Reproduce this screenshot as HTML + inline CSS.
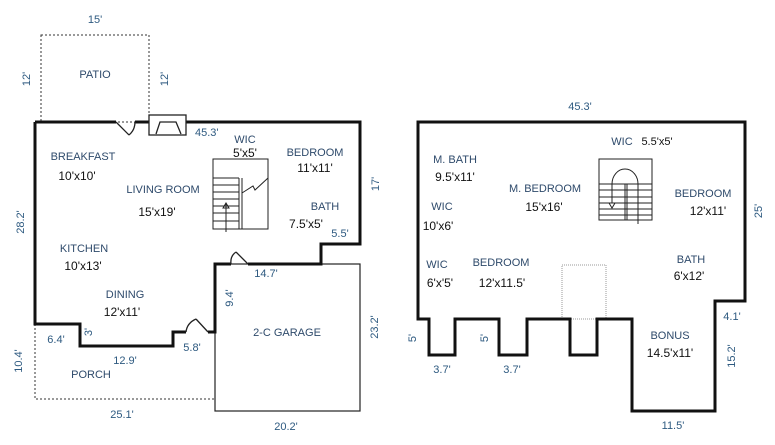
<!DOCTYPE html>
<html><head><style>
html,body{margin:0;padding:0;background:#fff;}
svg{display:block;}
text{font-family:"Liberation Sans",sans-serif;font-size:11px;}
.l{fill:#2e4a6b;}
.d{fill:#2e5a80;}
.s{fill:#111;font-size:12px;}
</style></head><body>
<svg width="775" height="445" viewBox="0 0 775 445" xmlns="http://www.w3.org/2000/svg">
<!-- LEFT PLAN -->
<rect x="41" y="35" width="108" height="87" fill="none" stroke="#333" stroke-width="1" stroke-dasharray="2,2"/>
<polyline points="35,324 35,399 215,399" fill="none" stroke="#333" stroke-width="1" stroke-dasharray="2,2"/>
<rect x="215" y="264" width="145" height="147" fill="none" stroke="#222" stroke-width="1.2"/>
<path d="M35,122 H116 M135,122 H149 M186,122 H360 V244 H321 V264 H248 M231,264 H215 V332 H208 M186,332 H173 V346 H80 V324 H35 V122" fill="none" stroke="#111" stroke-width="3"/>
<!-- doors -->
<path d="M116,122 L129,135 M129,135 Q135,130 135,122" fill="none" stroke="#222" stroke-width="1.3"/>
<path d="M248,264 L236,252 M236,252 Q230,256 231,264" fill="none" stroke="#222" stroke-width="1.3"/>
<path d="M208,332 L196,319 M196,319 Q187,323 186,332" fill="none" stroke="#222" stroke-width="1.3"/>
<!-- fireplace -->
<rect x="149" y="115" width="37" height="20" fill="#fff" stroke="#222" stroke-width="1.3"/>
<path d="M156,134 L160,122 H176 L181,134" fill="none" stroke="#222" stroke-width="1.3"/>
<!-- stairs left -->
<g fill="none" stroke="#222" stroke-width="1">
<rect x="213" y="159" width="55" height="70"/>
<line x1="213" y1="178" x2="239" y2="178"/>
<line x1="239" y1="178" x2="239" y2="229"/>
<line x1="242" y1="178" x2="242" y2="229"/>
<line x1="213" y1="185" x2="239" y2="185"/>
<line x1="213" y1="192" x2="239" y2="192"/>
<line x1="213" y1="199" x2="239" y2="199"/>
<line x1="213" y1="206" x2="239" y2="206"/>
<line x1="213" y1="213" x2="239" y2="213"/>
<line x1="213" y1="221" x2="239" y2="221"/>
<line x1="226" y1="232" x2="226" y2="203"/>
<path d="M223,208 L226,203 L229,208 Z"/>
<path d="M242,193 L253,186 L255,190 L268,178"/>
</g>
<!-- RIGHT PLAN -->
<rect x="562" y="265" width="44" height="54" fill="none" stroke="#999" stroke-width="1" stroke-dasharray="1,1"/>
<path d="M418,122 H745 V301 H715 V411 H632 V319 H597 V355 H570 V319 H527 V355 H499 V319 H455 V355 H429 V319 H418 Z" fill="none" stroke="#111" stroke-width="3"/>
<g fill="none" stroke="#222" stroke-width="1">
<rect x="599" y="159" width="53" height="61"/>
<line x1="625" y1="184" x2="625" y2="220"/>
<line x1="627" y1="184" x2="627" y2="220"/>
<line x1="599" y1="184" x2="652" y2="184"/>
<line x1="599" y1="190" x2="652" y2="190"/>
<line x1="599" y1="197" x2="652" y2="197"/>
<line x1="599" y1="203" x2="652" y2="203"/>
<line x1="599" y1="209" x2="652" y2="209"/>
<line x1="599" y1="215" x2="652" y2="215"/>
<path d="M612,203 V184 A13,15 0 0 1 638,184 V224"/>
<path d="M609,203 L612,208 L615,203 Z"/>
</g>
<!-- LEFT TEXT -->
<text class="d" x="95" y="23" text-anchor="middle">15'</text>
<text class="l" x="95" y="78" text-anchor="middle">PATIO</text>
<text class="d" transform="translate(30,79) rotate(-90)" text-anchor="middle">12'</text>
<text class="d" transform="translate(168,79) rotate(-90)" text-anchor="middle">12'</text>
<text class="d" x="195" y="136">45.3'</text>
<text class="l" x="245" y="143" text-anchor="middle">WIC</text>
<text class="s" x="245" y="157" text-anchor="middle">5'x5'</text>
<text class="l" x="315" y="156" text-anchor="middle">BEDROOM</text>
<text class="s" x="315" y="172" text-anchor="middle">11'x11'</text>
<text class="d" transform="translate(379,184) rotate(-90)" text-anchor="middle">17'</text>
<text class="l" x="83" y="160" text-anchor="middle">BREAKFAST</text>
<text class="s" x="77" y="180" text-anchor="middle">10'x10'</text>
<text class="l" x="163" y="193" text-anchor="middle">LIVING ROOM</text>
<text class="s" x="157" y="216" text-anchor="middle">15'x19'</text>
<text class="l" x="325" y="210" text-anchor="middle">BATH</text>
<text class="s" x="306" y="228" text-anchor="middle">7.5'x5'</text>
<text class="d" x="340" y="237" text-anchor="middle">5.5'</text>
<text class="d" transform="translate(24,222) rotate(-90)" text-anchor="middle">28.2'</text>
<text class="l" x="84" y="252" text-anchor="middle">KITCHEN</text>
<text class="s" x="83" y="270" text-anchor="middle">10'x13'</text>
<text class="d" x="266" y="277" text-anchor="middle">14.7'</text>
<text class="d" transform="translate(233,298) rotate(-90)" text-anchor="middle">9.4'</text>
<text class="l" x="125" y="298" text-anchor="middle">DINING</text>
<text class="s" x="122" y="316" text-anchor="middle">12'x11'</text>
<text class="l" x="287" y="336" text-anchor="middle">2-C GARAGE</text>
<text class="d" transform="translate(378,327) rotate(-90)" text-anchor="middle">23.2'</text>
<text class="d" transform="translate(92,332) rotate(-90)" text-anchor="middle">3'</text>
<text class="d" x="56" y="343" text-anchor="middle">6.4'</text>
<text class="d" x="192" y="351" text-anchor="middle">5.8'</text>
<text class="d" x="125" y="364" text-anchor="middle">12.9'</text>
<text class="d" transform="translate(22,361) rotate(-90)" text-anchor="middle">10.4'</text>
<text class="l" x="91" y="378" text-anchor="middle">PORCH</text>
<text class="d" x="122" y="418" text-anchor="middle">25.1'</text>
<text class="d" x="286" y="430" text-anchor="middle">20.2'</text>
<!-- RIGHT TEXT -->
<text class="d" x="580" y="110" text-anchor="middle">45.3'</text>
<text class="l" x="622" y="145" text-anchor="middle">WIC</text>
<text class="s" x="657" y="145" text-anchor="middle" style="font-size:11px">5.5'x5'</text>
<text class="l" x="455" y="163" text-anchor="middle">M. BATH</text>
<text class="s" x="455" y="181" text-anchor="middle">9.5'x11'</text>
<text class="l" x="545" y="192" text-anchor="middle">M. BEDROOM</text>
<text class="s" x="544" y="211" text-anchor="middle">15'x16'</text>
<text class="l" x="703" y="197" text-anchor="middle">BEDROOM</text>
<text class="s" x="708" y="215" text-anchor="middle">12'x11'</text>
<text class="d" transform="translate(762,211) rotate(-90)" text-anchor="middle">25'</text>
<text class="l" x="442" y="210" text-anchor="middle">WIC</text>
<text class="s" x="438" y="230" text-anchor="middle">10'x6'</text>
<text class="l" x="437" y="268" text-anchor="middle">WIC</text>
<text class="s" x="440" y="287" text-anchor="middle">6'x'5'</text>
<text class="l" x="501" y="266" text-anchor="middle">BEDROOM</text>
<text class="s" x="502" y="287" text-anchor="middle">12'x11.5'</text>
<text class="l" x="691" y="263" text-anchor="middle">BATH</text>
<text class="s" x="689" y="280" text-anchor="middle">6'x12'</text>
<text class="d" x="732" y="320" text-anchor="middle">4.1'</text>
<text class="l" x="670" y="339" text-anchor="middle">BONUS</text>
<text class="s" x="670" y="357" text-anchor="middle">14.5'x11'</text>
<text class="d" transform="translate(735,356) rotate(-90)" text-anchor="middle">15.2'</text>
<text class="d" transform="translate(416,338) rotate(-90)" text-anchor="middle">5'</text>
<text class="d" transform="translate(488,338) rotate(-90)" text-anchor="middle">5'</text>
<text class="d" x="442" y="373" text-anchor="middle">3.7'</text>
<text class="d" x="512" y="373" text-anchor="middle">3.7'</text>
<text class="d" x="673" y="429" text-anchor="middle">11.5'</text>
</svg>
</body></html>
